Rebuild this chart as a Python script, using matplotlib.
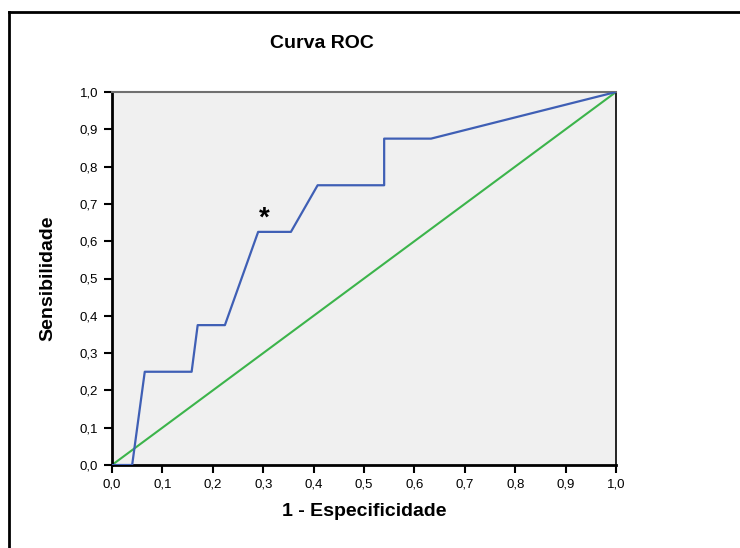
import matplotlib
matplotlib.use("Agg")
import matplotlib.pyplot as plt
from matplotlib.lines import Line2D

plt.rcParams["font.family"] = ["Liberation Sans", "DejaVu Sans"]

# ROC curve points (1 - specificity, sensitivity)
fpr = [0.0, 0.04, 0.065, 0.158, 0.170, 0.224, 0.290, 0.355, 0.408, 0.540, 0.540, 0.633, 1.0]
tpr = [0.0, 0.0, 0.25, 0.25, 0.375, 0.375, 0.625, 0.625, 0.75, 0.75, 0.875, 0.875, 1.0]
ref_line = [0.0, 1.0]
mark_xy = (0.302, 0.66)
ticks = [i / 10 for i in range(11)]
tick_labels = [f"{t:.1f}".replace(".", ",") for t in ticks]

fig = plt.figure(figsize=(7.4, 5.48), dpi=100)
ax = fig.add_axes([112 / 740, 1 - 465 / 548, 504 / 740, 373 / 548])
ax.set_facecolor("#f0f0f0")

ax.plot(ref_line, ref_line, color="#3cb44b", lw=1.5, zorder=2)
ax.plot(fpr, tpr, color="#3f5fb5", lw=1.6, zorder=3)
ax.text(mark_xy[0], mark_xy[1], "*", fontsize=20, fontweight="bold",
        ha="center", va="center", color="black")

ax.set_xlim(0, 1)
ax.set_ylim(0, 1)
ax.set_xticks(ticks)
ax.set_yticks(ticks)
ax.set_xticklabels(tick_labels, fontsize=9.5)
ax.set_yticklabels(tick_labels, fontsize=9.5)
ax.tick_params(direction="out", length=6, width=1.5, pad=4)

for side in ("left", "bottom"):
    ax.spines[side].set_linewidth(2)
ax.spines["top"].set_color("#707070")
ax.spines["top"].set_linewidth(1.5)
ax.spines["right"].set_linewidth(1.2)

ax.set_xlabel("1 - Especificidade", fontsize=14, fontweight="bold", labelpad=9)
ax.set_ylabel("Sensibilidade", fontsize=14, fontweight="bold", labelpad=17)

fig.text(322 / 740, 1 - 43 / 548, "Curva ROC", fontsize=14, fontweight="bold",
         ha="center", va="center")

# frame around the chart (only left and top edges fall inside the image)
fig.add_artist(Line2D([9 / 740, 9 / 740], [0, 1 - 12 / 548], color="black", lw=2,
                      transform=fig.transFigure))
fig.add_artist(Line2D([9 / 740, 1], [1 - 12 / 548, 1 - 12 / 548], color="black", lw=2,
                      transform=fig.transFigure))

fig.savefig("out.png", dpi=100)
